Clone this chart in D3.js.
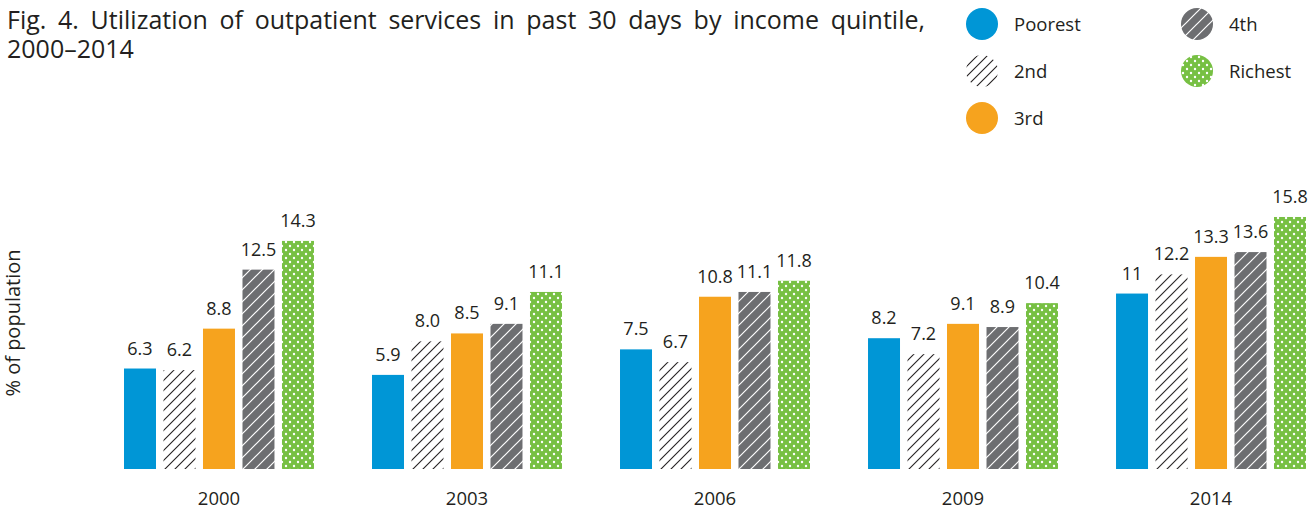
<!DOCTYPE html>
<html>
<head>
<meta charset="utf-8">
<script src="https://cdn.jsdelivr.net/npm/d3@7"></script>
<style>
  body { margin: 0; background: #fff; }
  text { font-family: "Open Sans", "Noto Sans", sans-serif; fill: #231f20; }
</style>
</head>
<body>
<svg id="chart" width="1312" height="511"></svg>
<script>
// data
var years = ["2000", "2003", "2006", "2009", "2014"]
var quintiles = ["Poorest", "2nd", "3rd", "4th", "Richest"]
var poorest = [6.3, 5.9, 7.5, 8.2, 11]
var second  = [6.2, 8.0, 6.7, 7.2, 12.2]
var third   = [8.8, 8.5, 10.8, 9.1, 13.3]
var fourth  = [12.5, 9.1, 11.1, 8.9, 13.6]
var richest = [14.3, 11.1, 11.8, 10.4, 15.8]
var valueLabels = [
  ["6.3", "5.9", "7.5", "8.2", "11"],
  ["6.2", "8.0", "6.7", "7.2", "12.2"],
  ["8.8", "8.5", "10.8", "9.1", "13.3"],
  ["12.5", "9.1", "11.1", "8.9", "13.6"],
  ["14.3", "11.1", "11.8", "10.4", "15.8"]
]
var series = [poorest, second, third, fourth, richest]
var fills = ["#0096d6", "url(#hatch2)", "#f6a31e", "url(#hatch4)", "url(#dots)"]

var svg = d3.select('#chart')

// patterns
var defs = svg.append('defs')
var h2 = defs.append('pattern').attr('id', 'hatch2')
  .attr('patternUnits', 'userSpaceOnUse').attr('width', 10).attr('height', 10)
h2.append('rect').attr('width', 10).attr('height', 10).attr('fill', '#fff')
h2.append('path').attr('d', 'M-1,1 l2,-2 M0,10 l10,-10 M9,11 l2,-2')
  .attr('stroke', '#231f20').attr('stroke-width', 1.1)

var h4 = defs.append('pattern').attr('id', 'hatch4')
  .attr('patternUnits', 'userSpaceOnUse').attr('width', 12).attr('height', 12)
h4.append('rect').attr('width', 12).attr('height', 12).attr('fill', '#6d6e71')
h4.append('path').attr('d', 'M-1,1 l2,-2 M0,12 l12,-12 M11,13 l2,-2')
  .attr('stroke', '#fff').attr('stroke-width', 1.2)

var dt = defs.append('pattern').attr('id', 'dots')
  .attr('patternUnits', 'userSpaceOnUse').attr('width', 8).attr('height', 8)
dt.append('rect').attr('width', 8).attr('height', 8).attr('fill', '#77c043')
dt.append('circle').attr('cx', 2).attr('cy', 2).attr('r', 1.2).attr('fill', '#fff')
dt.append('circle').attr('cx', 6).attr('cy', 6).attr('r', 1.2).attr('fill', '#fff')

// scales
var y = d3.scaleLinear().domain([0, 16]).range([469, 469 - 16 * 15.95])
var x0 = d3.scaleBand().domain(years).range([124, 1306]).paddingInner(0.234)
var x1 = d3.scaleBand().domain(quintiles).range([0, x0.bandwidth()]).paddingInner(0.19)

var groups = svg.append('g').selectAll('g')
  .data(years)
  .join('g')
  .attr('transform', d => `translate(${x0(d)},0)`)

quintiles.forEach(function(q, qi) {
  groups.append('rect')
    .attr('x', x1(q))
    .attr('width', x1.bandwidth())
    .attr('y', (d, i) => y(series[qi][i]))
    .attr('height', (d, i) => y(0) - y(series[qi][i]))
    .attr('fill', fills[qi])

  groups.append('text')
    .attr('x', x1(q) + x1.bandwidth() / 2)
    .attr('y', (d, i) => y(series[qi][i]) - 14)
    .attr('text-anchor', 'middle')
    .attr('font-size', 18)
    .text((d, i) => valueLabels[qi][i])
})

// x axis labels
svg.append('g')
  .attr('transform', 'translate(0,505)')
  .call(d3.axisBottom(x0).tickSize(0).tickPadding(0))
  .call(g => g.select('.domain').remove())
  .call(g => g.selectAll('text')
    .attr('font-size', 18.5)
    .attr('dy', 0)
    .attr('font-family', '"Open Sans", "Noto Sans", sans-serif')
    .attr('fill', '#231f20'))

// y label
svg.append('text')
  .attr('transform', 'translate(20,323) rotate(-90)')
  .attr('text-anchor', 'middle')
  .attr('font-size', 20)
  .text('% of population')

// title
var t1 = svg.append('text')
  .attr('x', 7).attr('y', 29)
  .attr('font-size', 25)
  .text('Fig. 4. Utilization of outpatient services in past 30 days by income quintile,')
var w = t1.node().getComputedTextLength()
var gaps = t1.text().split(' ').length - 1
t1.attr('word-spacing', Math.max(0, (925 - 7 - w) / gaps))
svg.append('text')
  .attr('x', 7).attr('y', 58)
  .attr('font-size', 25)
  .text('2000–2014')

// legend
var legendPos = [[982, 24], [982, 71], [982, 118], [1197, 24], [1197, 71]]
var legend = svg.append('g').selectAll('g')
  .data(quintiles)
  .join('g')
  .attr('transform', (d, i) => `translate(${legendPos[i][0]},${legendPos[i][1]})`)
legend.append('circle')
  .attr('r', 16)
  .attr('fill', (d, i) => fills[i])
legend.append('text')
  .attr('x', 32)
  .attr('y', 7)
  .attr('font-size', 18.5)
  .text(d => d)
</script>
</body>
</html>
